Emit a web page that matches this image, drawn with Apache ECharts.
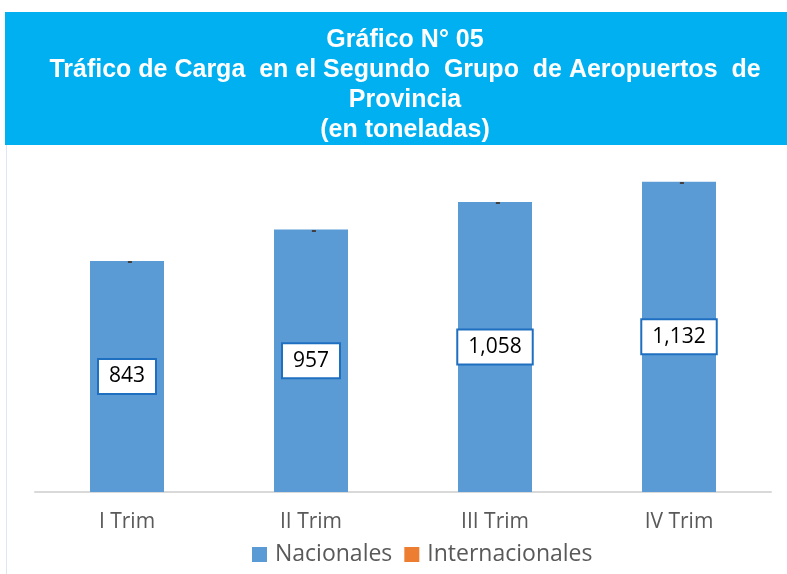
<!DOCTYPE html>
<html><head><meta charset="utf-8">
<script src="https://cdn.jsdelivr.net/npm/echarts@6/dist/echarts.min.js"></script>
<style>html,body{margin:0;padding:0;background:#fff}#c{width:787px;height:574px}</style>
</head><body><div id="c"></div>
<script>
const categories = ['I Trim', 'II Trim', 'III Trim', 'IV Trim'];
const nacionales = [843, 957, 1058, 1132];
const internacionales = [0, 0, 0, 0];
const titleLines = ['Gráfico N° 05', 'Tráfico de Carga  en el Segundo  Grupo  de Aeropuertos  de', 'Provincia', '(en toneladas)'];

const chart = echarts.init(document.getElementById('c'));
chart.setOption({
  animation: false,
  graphic: [
    { type: 'rect', shape: { x: 5, y: 12, width: 782, height: 133 }, style: { fill: '#00B0F0' }, z: 0 },
    { type: 'line', shape: { x1: 6.5, y1: 145, x2: 6.5, y2: 574 }, style: { stroke: '#DDE7F3', lineWidth: 1 } },
    { type: 'text', z: 10,
      style: { x: 405, y: 25, text: titleLines.join('\n'), fill: '#fff', font: 'bold 25px "Liberation Sans", Arial', lineHeight: 30, align: 'center', verticalAlign: 'top' } }
  ],
  grid: { left: 35, right: 16, top: 163, bottom: 82, containLabel: false },
  legend: {
    top: 538, left: 247, itemWidth: 15, itemHeight: 15, itemGap: 12,
    icon: 'rect',
    textStyle: { color: '#595959', fontSize: 23, fontFamily: '"Open Sans", Carlito, sans-serif', padding: [0, 0, 0, 3] },
    data: ['Nacionales', 'Internacionales']
  },
  xAxis: {
    type: 'category', data: categories,
    axisLine: { lineStyle: { color: '#D9D9D9', width: 2 } },
    axisTick: { show: false },
    axisLabel: { color: '#595959', fontSize: 21, margin: 20, fontFamily: '"Open Sans", Carlito, sans-serif' }
  },
  yAxis: { type: 'value', min: 0, max: 1200, show: false, splitLine: { show: false } },
  series: [
    { name: 'Nacionales', type: 'bar', stack: 't', data: nacionales, barWidth: 74,
      itemStyle: { color: '#5B9BD5' },
      label: { show: true, position: 'inside', color: '#000', fontSize: 21,
        fontFamily: '"Open Sans", Carlito, sans-serif',
        backgroundColor: '#fff', borderColor: '#1F6FC0', borderWidth: 2,
        padding: [7, 10, 5, 10],
        formatter: p => p.value.toLocaleString('en-US') } },
    { name: 'Internacionales', type: 'bar', stack: 't', data: internacionales, barWidth: 74,
      itemStyle: { color: '#ED7D31' },
      label: { show: true, position: 'insideTop', distance: 0, offset: [3, -7], color: '#404040', fontSize: 16, fontWeight: 'bold',
        formatter: () => '-' } }
  ]
});
</script></body></html>
